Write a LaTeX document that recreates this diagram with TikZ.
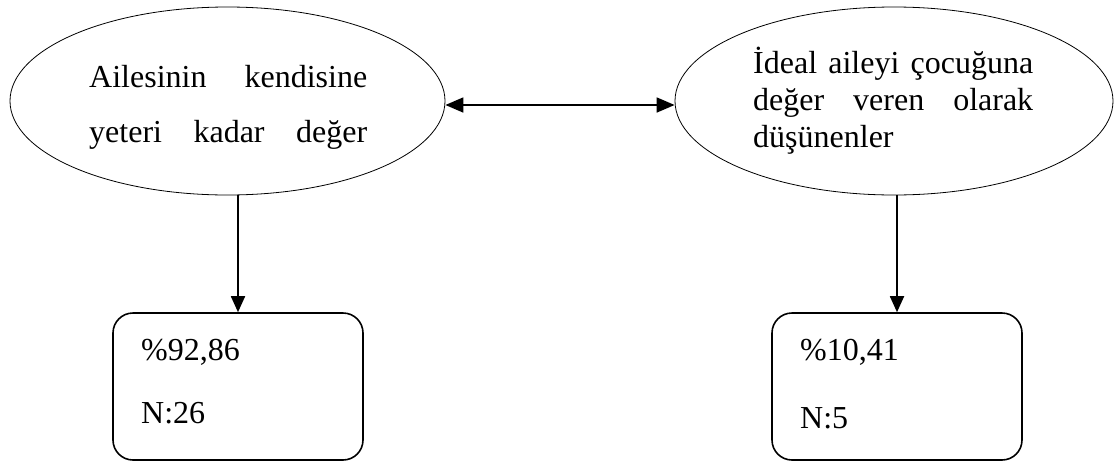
\documentclass[tikz,border=0pt]{standalone}
\usepackage{fontspec}
\setmainfont{Liberation Serif}
\usetikzlibrary{arrows.meta,shapes.geometric}
% one justified line of a given width
\newcommand{\fullline}[2]{\leavevmode\hbox to #1{#2}}
\begin{document}
\begin{tikzpicture}[x=1pt,y=-1pt,
  oval/.style={draw, ellipse, line width=0.8pt, inner sep=0pt, minimum height=188pt},
  resultbox/.style={draw, rounded corners=20pt, line width=1.6pt,
    minimum width=250pt, minimum height=147pt, inner sep=0pt},
  bodytext/.style={inner sep=0pt, anchor=base west},
  link/.style={line width=1.8pt, -{Triangle[length=16pt,width=14pt]}},
  twoway/.style={line width=1.8pt,
    {Triangle[length=18pt,width=15pt]}-{Triangle[length=18pt,width=15pt]}}
]
\useasboundingbox (0,0) rectangle (1117,461);

% upper ovals
\node[oval, minimum width=435pt] (le) at (227.5,101) {};
\node[oval, minimum width=438pt] (re) at (894,101) {};

% justified lines inside the ovals
\node[bodytext, text width=278pt, font=\fontsize{32}{55}\selectfont] (lt) at (89,87)
  {\fullline{278pt}{Ailesinin\hfill kendisine}\\
   \fullline{278pt}{yeteri\hfill kadar\hfill değer}};
\node[bodytext, text width=280pt, font=\fontsize{32}{37}\selectfont] (rt) at (753,73)
  {\fullline{280pt}{İdeal\hfill aileyi\hfill çocuğuna}\\
   \fullline{280pt}{değer\hfill veren\hfill olarak}\\
   düşünenler};

% result boxes
\node[resultbox] (lb) at (238,386.5) {};
\node[resultbox] (rb) at (897,386.5) {};

\node[bodytext, font=\fontsize{32}{38}\selectfont] (lp) at (141,360) {\%92,86};
\node[bodytext, font=\fontsize{32}{38}\selectfont] (ln) at (141,423) {N:26};
\node[bodytext, font=\fontsize{32}{38}\selectfont] (rp) at (800,360) {\%10,41};
\node[bodytext, font=\fontsize{32}{38}\selectfont] (rn) at (800,428) {N:5};

% connectors
\draw[twoway] ([yshift=-4pt]le.east) -- ([yshift=-4pt]re.west);
\draw[link] (lb.north |- le.south) -- (lb.north);
\draw[link] (rb.north |- re.south) -- (rb.north);
\end{tikzpicture}
\end{document}
